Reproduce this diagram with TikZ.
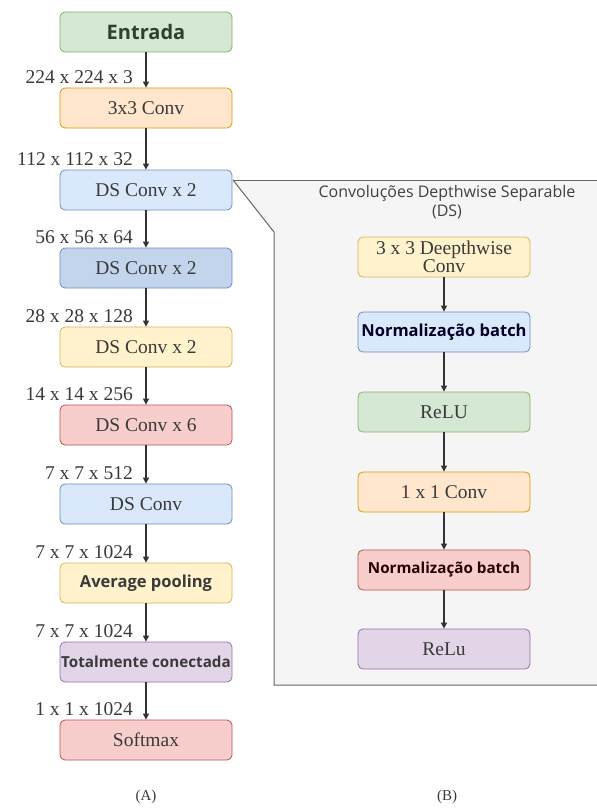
\documentclass[tikz,border=0pt]{standalone}
\usepackage{fontspec}
\setmainfont{Liberation Serif}
\newfontfamily\boldsans{Open Sans}[UprightFont=* Bold]
\newfontfamily\plainsans{Open Sans}
\usetikzlibrary{arrows.meta}

\definecolor{txt}{HTML}{3A3A3A}
\definecolor{gfill}{HTML}{D5E8D4}\definecolor{gline}{HTML}{82B366}
\definecolor{ofill}{HTML}{FFE6CC}\definecolor{oline}{HTML}{D79B00}
\definecolor{bfill}{HTML}{DAE8FC}\definecolor{bline}{HTML}{6C8EBF}
\definecolor{dbfill}{HTML}{C3D5EC}
\definecolor{yfill}{HTML}{FFF2CC}\definecolor{yline}{HTML}{D6B656}
\definecolor{rfill}{HTML}{F8CECC}\definecolor{rline}{HTML}{B85450}
\definecolor{pfill}{HTML}{E1D5E7}\definecolor{pline}{HTML}{9673A6}
\definecolor{panel}{HTML}{F5F5F5}\definecolor{panelline}{HTML}{666666}
\definecolor{entr}{HTML}{2F402F}

\tikzset{
  block/.style={draw, line width=0.8pt, rounded corners=5pt, minimum width=172pt,
    minimum height=40pt, inner sep=1pt, align=center, text=txt,
    font=\fontsize{19.5}{19}\selectfont},
  sanslabel/.style={font=\boldsans\fontsize{16.5}{18}\selectfont},
  green/.style={block, fill=gfill, draw=gline},
  orange/.style={block, fill=ofill, draw=oline},
  blue/.style={block, fill=bfill, draw=bline},
  darkblue/.style={block, fill=dbfill, draw=bline},
  yellow/.style={block, fill=yfill, draw=yline},
  red/.style={block, fill=rfill, draw=rline},
  purple/.style={block, fill=pfill, draw=pline},
  flow/.style={-{Triangle[length=6pt,width=6pt]}, line width=1.1pt, draw=black!80},
  dim/.style={anchor=east, text=txt, inner sep=0pt, font=\fontsize{19.5}{19}\selectfont},
  caption/.style={text=txt, font=\fontsize{15}{15}\selectfont}
}

\begin{document}
\begin{tikzpicture}[x=1pt, y=-1pt]
\useasboundingbox[fill=white] (0,0) rectangle (597,809);

% detail panel behind the network
\coordinate (p0) at (233,180);
\coordinate (p1) at (597,180);
\coordinate (p2) at (274,232);
\coordinate (p3) at (274,685);
\coordinate (p4) at (597,685);
\fill[panel] (p0) -- (p1) -- (p4) -- (p3) -- (p2) -- cycle;
\draw[panelline, line width=1pt] (p0) -- (p1);
\draw[panelline, line width=1pt] (p0) -- (p2) -- (p3) -- (p4);

% MobileNet backbone
\node[green, font=\boldsans\fontsize{20}{20}\selectfont, text=entr] (in) at (146,32) {Entrada};
\node[orange] (c3) at (146,108) {3x3 Conv};
\node[blue] (ds1) at (146,190) {DS Conv x 2};
\node[darkblue] (ds2) at (146,268) {DS Conv x 2};
\node[yellow] (ds3) at (146,347) {DS Conv x 2};
\node[red] (ds4) at (146,425) {DS Conv x 6};
\node[blue] (ds5) at (146,504) {DS Conv};
\node[yellow, sanslabel] (avg) at (146,583) {Average pooling};
\node[purple, sanslabel, font=\boldsans\fontsize{15.2}{18}\selectfont] (fc) at (146,662) {Totalmente conectada};
\node[red] (sm) at (146,740) {Softmax};

\foreach \a/\b in {in/c3, c3/ds1, ds1/ds2, ds2/ds3, ds3/ds4, ds4/ds5, ds5/avg, avg/fc, fc/sm}
  \draw[flow] (\a) -- (\b);

\node[dim] at ([xshift=-13pt, yshift=10pt]c3.north)  {224 x 224 x 3};
\node[dim] at ([xshift=-13pt, yshift=10pt]ds1.north) {112 x 112 x 32};
\node[dim] at ([xshift=-13pt, yshift=10pt]ds2.north) {56 x 56 x 64};
\node[dim] at ([xshift=-13pt, yshift=10pt]ds3.north) {28 x 28 x 128};
\node[dim] at ([xshift=-13pt, yshift=10pt]ds4.north) {14 x 14 x 256};
\node[dim] at ([xshift=-13pt, yshift=10pt]ds5.north) {7 x 7 x 512};
\node[dim] at ([xshift=-13pt, yshift=10pt]avg.north) {7 x 7 x 1024};
\node[dim] at ([xshift=-13pt, yshift=10pt]fc.north)  {7 x 7 x 1024};
\node[dim] at ([xshift=-13pt, yshift=10pt]sm.north)  {1 x 1 x 1024};

% depthwise separable block
\node[align=center, text=black!75, font=\plainsans\fontsize{16}{19}\selectfont] (title) at (447,202)
  {Convoluções Depthwise Separable\\(DS)};
\node[yellow, font=\fontsize{19.5}{17}\selectfont] (dw) at (444,257) {3 x 3 Deepthwise\\Conv};
\node[blue, sanslabel, text=black!85!blue] (bn1) at (444,332) {Normalização batch};
\node[green] (r1) at (444,412) {ReLU};
\node[orange] (pw) at (444,492) {1 x 1 Conv};
\node[red, sanslabel, font=\boldsans\fontsize{15.2}{18}\selectfont, text=black!85!red] (bn2) at (444,570) {Normalização batch};
\node[purple] (r2) at (444,649) {ReLu};

\foreach \a/\b in {dw/bn1, bn1/r1, r1/pw, pw/bn2, bn2/r2}
  \draw[flow] (\a) -- (\b);

\node[caption] (capA) at (146,797) {(A)};
\node[caption] (capB) at (447,797) {(B)};
\end{tikzpicture}
\end{document}
